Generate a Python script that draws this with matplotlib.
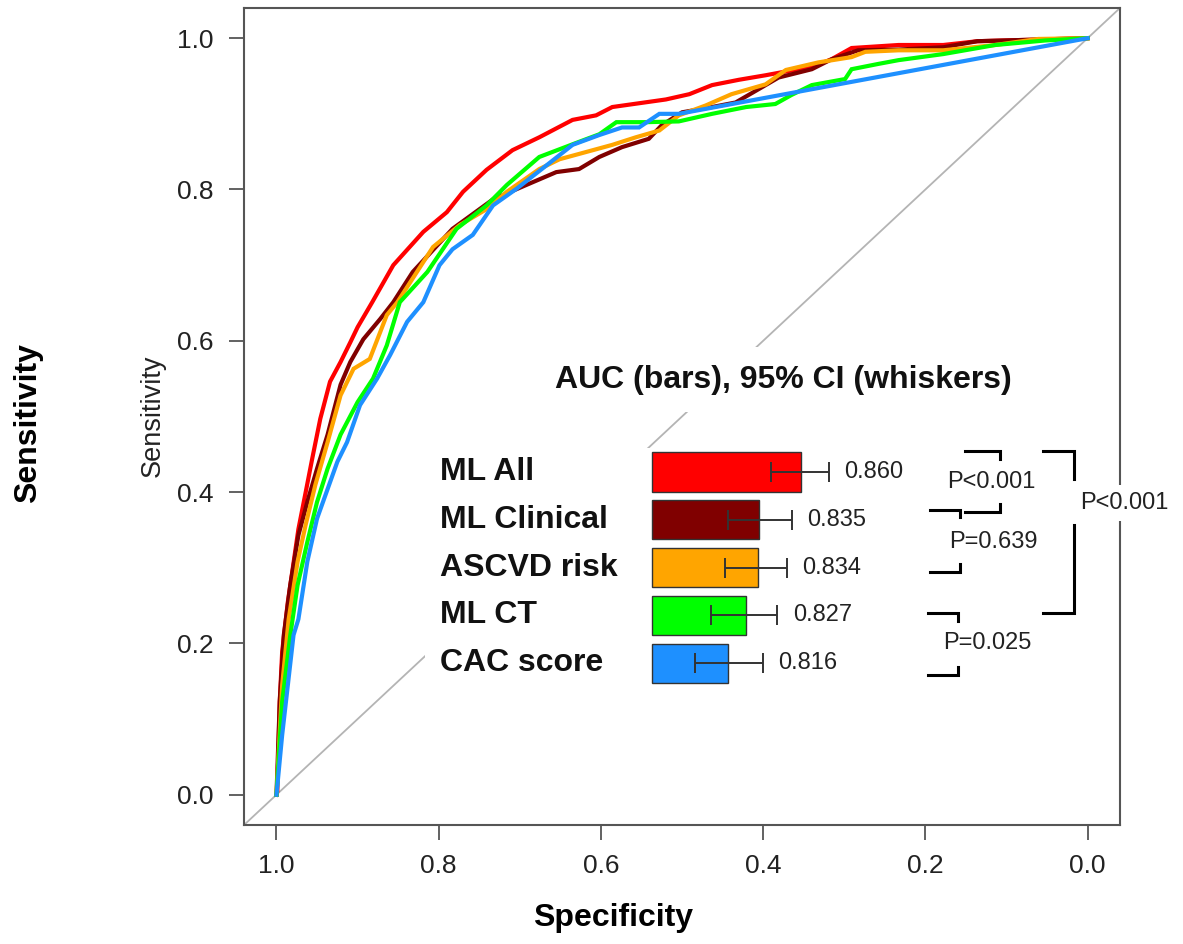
import numpy as np
import matplotlib
matplotlib.use("Agg")
import matplotlib.pyplot as plt

plt.rcParams['font.family'] = ['Liberation Sans', 'DejaVu Sans']

# ROC curves (specificity, sensitivity)
ml_all_spec = [1.000, 0.999, 0.996, 0.993, 0.986, 0.980, 0.973, 0.964, 0.956, 0.946,
               0.934, 0.921, 0.909, 0.900, 0.882, 0.856, 0.819, 0.790, 0.770, 0.741,
               0.709, 0.676, 0.635, 0.606, 0.586, 0.553, 0.520, 0.491, 0.463, 0.430,
               0.397, 0.372, 0.340, 0.316, 0.291, 0.233, 0.178, 0.136, 0.000]
ml_all_sens = [0.000, 0.004, 0.123, 0.189, 0.255, 0.299, 0.351, 0.400, 0.444, 0.497,
               0.546, 0.572, 0.598, 0.618, 0.651, 0.700, 0.744, 0.770, 0.797, 0.826,
               0.852, 0.869, 0.892, 0.898, 0.909, 0.914, 0.919, 0.926, 0.938, 0.945,
               0.951, 0.956, 0.962, 0.972, 0.987, 0.991, 0.991, 0.996, 1.000]

ml_clin_spec = [1.000, 0.996, 0.991, 0.983, 0.973, 0.962, 0.950, 0.937, 0.921, 0.909,
                0.893, 0.872, 0.856, 0.832, 0.783, 0.733, 0.692, 0.655, 0.627, 0.602,
                0.574, 0.541, 0.525, 0.500, 0.463, 0.434, 0.405, 0.381, 0.340, 0.316,
                0.283, 0.233, 0.178, 0.136, 0.000]
ml_clin_sens = [0.000, 0.123, 0.211, 0.277, 0.343, 0.387, 0.431, 0.476, 0.542, 0.572,
                0.602, 0.629, 0.651, 0.691, 0.748, 0.787, 0.806, 0.823, 0.827, 0.843,
                0.856, 0.867, 0.885, 0.902, 0.909, 0.915, 0.933, 0.948, 0.959, 0.972,
                0.984, 0.985, 0.988, 0.996, 1.000]

ascvd_spec = [1.000, 0.993, 0.985, 0.974, 0.964, 0.952, 0.937, 0.921, 0.905, 0.885,
              0.864, 0.851, 0.807, 0.774, 0.741, 0.716, 0.676, 0.651, 0.627, 0.586,
              0.557, 0.528, 0.504, 0.471, 0.439, 0.397, 0.372, 0.332, 0.291, 0.274,
              0.233, 0.178, 0.114, 0.061, 0.000]
ascvd_sens = [0.000, 0.145, 0.232, 0.308, 0.357, 0.410, 0.466, 0.528, 0.563, 0.576,
              0.634, 0.651, 0.724, 0.753, 0.774, 0.797, 0.827, 0.840, 0.847, 0.859,
              0.869, 0.878, 0.898, 0.911, 0.926, 0.939, 0.958, 0.968, 0.975, 0.982,
              0.984, 0.984, 0.991, 0.999, 1.000]

ml_ct_spec = [1.000, 0.993, 0.983, 0.974, 0.962, 0.950, 0.937, 0.921, 0.900, 0.881,
              0.864, 0.848, 0.814, 0.778, 0.741, 0.716, 0.676, 0.627, 0.602, 0.581,
              0.544, 0.504, 0.463, 0.421, 0.385, 0.365, 0.340, 0.299, 0.291, 0.258,
              0.233, 0.178, 0.114, 0.052, 0.000]
ml_ct_sens = [0.000, 0.123, 0.211, 0.277, 0.334, 0.387, 0.431, 0.476, 0.519, 0.550,
              0.594, 0.651, 0.691, 0.748, 0.779, 0.806, 0.843, 0.863, 0.873, 0.889,
              0.889, 0.890, 0.900, 0.909, 0.913, 0.925, 0.938, 0.946, 0.959, 0.966,
              0.971, 0.979, 0.991, 0.997, 1.000]

cac_spec = [1.000, 0.993, 0.986, 0.979, 0.973, 0.962, 0.950, 0.937, 0.925, 0.913,
            0.897, 0.876, 0.860, 0.839, 0.819, 0.799, 0.783, 0.758, 0.733, 0.704,
            0.667, 0.635, 0.602, 0.574, 0.553, 0.528, 0.504, 0.000]
cac_sens = [0.000, 0.079, 0.145, 0.211, 0.232, 0.308, 0.365, 0.404, 0.440, 0.466,
            0.515, 0.550, 0.581, 0.625, 0.651, 0.700, 0.721, 0.740, 0.779, 0.801,
            0.832, 0.859, 0.872, 0.882, 0.882, 0.900, 0.900, 1.000]

# AUC summary
models = ["ML All", "ML Clinical", "ASCVD risk", "ML CT", "CAC score"]
colors = ["#FF0000", "#800000", "#FFA500", "#00FF00", "#1E90FF"]
auc = [0.860, 0.835, 0.834, 0.827, 0.816]
ci_low = [0.842, 0.816, 0.814, 0.806, 0.796]
ci_high = [0.877, 0.855, 0.852, 0.846, 0.837]

curves = [(ml_all_spec, ml_all_sens), (ml_clin_spec, ml_clin_sens),
          (ascvd_spec, ascvd_sens), (ml_ct_spec, ml_ct_sens), (cac_spec, cac_sens)]

fig = plt.figure(figsize=(11.83, 9.44), dpi=100)
ax = fig.add_axes([0.2063, 0.1261, 0.7405, 0.8655])

ax.plot([1.04, -0.04], [-0.04, 1.04], color="#b4b4b4", lw=1.3, zorder=1)
for (sp, se), c in zip(curves, colors):
    ax.plot(sp, se, color=c, lw=3.0, solid_joinstyle="miter", zorder=2)

ax.set_xlim(1.04, -0.04)
ax.set_ylim(-0.04, 1.04)
ticks = [0.0, 0.2, 0.4, 0.6, 0.8, 1.0]
ax.set_xticks(ticks)
ax.set_yticks(ticks)
ax.set_xticklabels(["%.1f" % t for t in ticks])
ax.set_yticklabels(["%.1f" % t for t in ticks])
for s in ax.spines.values():
    s.set_color("#555555")
    s.set_linewidth(1.5)
ax.tick_params(axis="both", length=11, width=1.3, color="#555555",
               labelsize=19, labelcolor="#222222")
ax.tick_params(axis="y", pad=11)
ax.tick_params(axis="x", pad=10)

fig.text(28 / 1183, 1 - 423 / 944, "Sensitivity", rotation=90, fontsize=23,
         fontweight="bold", ha="center", va="center")
fig.text(153 / 1183, 1 - 416 / 944, "Sensitivity", rotation=90, fontsize=19.5,
         ha="center", va="center", color="#222222")
fig.text(613 / 1183, 1 - 918 / 944, "Specificity", fontsize=23,
         fontweight="bold", ha="center", va="center")

# inset with AUC bars
ax_in = fig.add_axes([0.3593, 0.2585, 0.579, 0.267])
ax_in.set_facecolor("white")
for s in ax_in.spines.values():
    s.set_visible(False)
ax_in.set_xticks([])
ax_in.set_yticks([])
ax_in.set_xlim(0.6324, 1.0476)
ax_in.set_ylim(4.77, -0.502)

base = 0.77
ypos = np.arange(len(models))
widths = [a - base for a in auc]
ax_in.barh(ypos, widths, left=base, height=0.82, color=colors,
           edgecolor="#333333", linewidth=1.0)
err = [np.array(auc) - np.array(ci_low), np.array(ci_high) - np.array(auc)]
ax_in.errorbar(auc, ypos, xerr=err, fmt="none", ecolor="#333333",
               elinewidth=1.4, capsize=7.5, capthick=1.4)
for y, hi, a in zip(ypos, ci_high, auc):
    ax_in.annotate("%.3f" % a, (hi, y), xytext=(11, 0), textcoords="offset points",
                   ha="left", va="center", fontsize=17, color="#222222")
for y, name in zip(ypos, models):
    ax_in.text(0.6415, y, name, ha="left", va="center", fontsize=23,
               fontweight="bold", color="#111111")

ax_in.text(0.8494, -1.925, "AUC (bars), 95% CI (whiskers)", ha="center",
           va="center", fontsize=23, fontweight="bold", color="#111111",
           bbox=dict(boxstyle="square,pad=0.55", facecolor="white",
                     edgecolor="none"), clip_on=False)

# pairwise comparison brackets: x0, x1, y_top, y_bot, label x, label y, text
small_brackets = [
    (0.9597, 0.9809, -0.44, 0.84, 0.9755, 0.21, "P<0.001"),
    (0.9385, 0.9567, 0.79, 2.09, 0.9767, 1.46, "P=0.639"),
    (0.9373, 0.9555, 2.95, 4.25, 0.9730, 3.58, "P=0.025"),
]
tick = 0.16
blw = 2.2
for x0, x1, yt, yb, lx, ly, txt in small_brackets:
    ax_in.plot([x0, x1, x1], [yt, yt, yt + tick], color="black", lw=blw,
               clip_on=False, solid_joinstyle="miter")
    ax_in.plot([x0, x1, x1], [yb, yb, yb - tick], color="black", lw=blw,
               clip_on=False, solid_joinstyle="miter")
    ax_in.text(lx, ly, txt, ha="center", va="center", fontsize=17,
               color="#222222")

# large bracket ML All vs ML CT
bx0, bx1, byt, byb = 1.007, 1.0258, -0.44, 2.95
ax_in.plot([bx0, bx1, bx1], [byt, byt, 0.146], color="black", lw=blw,
           clip_on=False, solid_joinstyle="miter")
ax_in.plot([bx1, bx1, bx0], [1.11, byb, byb], color="black", lw=blw,
           clip_on=False, solid_joinstyle="miter")
ax_in.text(1.0294, 0.65, "P<0.001", ha="left", va="center", fontsize=17,
           color="#222222", clip_on=False,
           bbox=dict(boxstyle="square,pad=0.3", facecolor="white",
                     edgecolor="none"))

fig.savefig("out.png", dpi=100)
